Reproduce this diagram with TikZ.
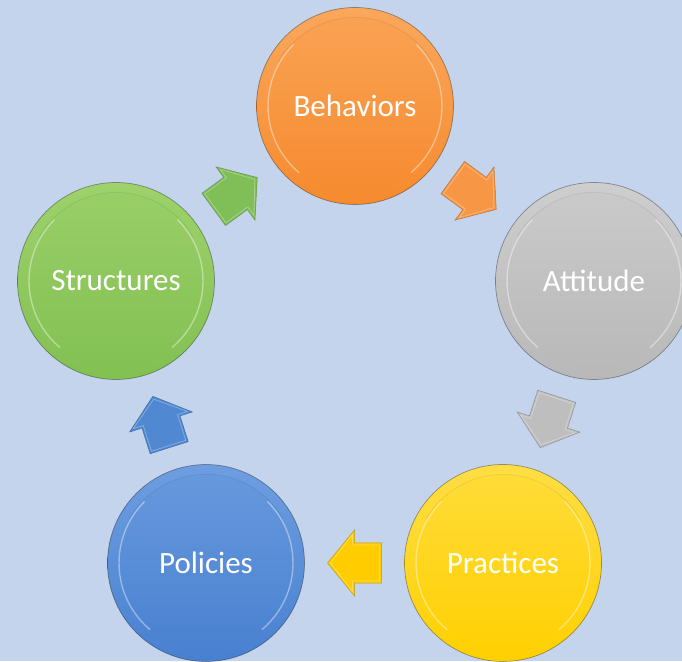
\documentclass[tikz,border=0pt]{standalone}
\usepackage{fontspec}
\setmainfont{Carlito}
\usetikzlibrary{calc}

% palette
\definecolor{bg}{RGB}{196,212,236}
\definecolor{orgD}{RGB}{246,138,46}
\definecolor{orgL}{RGB}{250,168,92}
\definecolor{gryD}{RGB}{184,184,184}
\definecolor{gryL}{RGB}{206,206,206}
\definecolor{ylwD}{RGB}{255,208,0}
\definecolor{ylwL}{RGB}{255,222,70}
\definecolor{bluD}{RGB}{72,128,208}
\definecolor{bluL}{RGB}{110,158,224}
\definecolor{grnD}{RGB}{130,192,82}
\definecolor{grnL}{RGB}{158,210,108}
\definecolor{orgA}{RGB}{247,150,68}
\definecolor{gryA}{RGB}{190,190,190}
\definecolor{ylwA}{RGB}{255,204,0}
\definecolor{bluA}{RGB}{80,136,210}
\definecolor{grnA}{RGB}{128,190,88}

\tikzset{
  % bevelled disc: #1 = darker base colour, #2 = lighter top colour
  disc/.style 2 args={
    circle, minimum size=197pt, inner sep=0pt,
    draw=black, draw opacity=.35, line width=0.7pt,
    top color=#2, bottom color=#1,
    text=white, font=\fontsize{31}{36}\selectfont,
    path picture={
      \shade[top color=#2!85!#1, bottom color=#1] (path picture bounding box.center) circle (87.5pt);
      \draw[#1!70!black, opacity=.18, line width=1pt]
        (path picture bounding box.center) ++(30:88.5) arc (30:150:88.5);
      \draw[white, opacity=.4, line width=1.4pt]
        (path picture bounding box.center) ++(-50:87) arc (-50:45:87);
      \draw[white, opacity=.4, line width=1.4pt]
        (path picture bounding box.center) ++(135:87) arc (135:230:87);
    }},
  % block arrow centred on the origin, pointing along +x
  cycarrow/.pic={
    \path[fill=#1, draw=#1!65!black, draw opacity=.7, line width=.5pt]
      (-27,-20) -- (0,-20) -- (0,-33) -- (27,0) -- (0,33) -- (0,20) -- (-27,20) -- cycle;
    \draw[white, opacity=.3, line width=.8pt, line join=round]
      (-25,-18) -- (2,-18) -- (2,-28.5) -- (24,0) -- (2,28.5) -- (2,18) -- (-25,18) -- cycle;
  },
}

\begin{document}
\begin{tikzpicture}[x=1pt, y=1pt]
  \fill[bg] (0,0) rectangle (682,661);
  \useasboundingbox (0,0) rectangle (682,661);

  % the five stages
  \node[disc={orgD}{orgL}] (beh) at (355,555) {Behaviors};
  \node[disc={gryD}{gryL}] (att) at (594,380) {Attitude};
  \node[disc={ylwD}{ylwL}] (pra) at (503,98)  {Practices};
  \node[disc={bluD}{bluL}] (pol) at (206,98)  {Policies};
  \node[disc={grnD}{grnL}] (str) at (116,380) {Structures};

  % cycle arrows halfway between neighbouring stages
  \foreach \from/\to/\col in {beh/att/orgA, att/pra/gryA, pra/pol/ylwA, pol/str/bluA, str/beh/grnA} {
    \path let \p1 = ($(\to.center)-(\from.center)$),
              \n1 = {atan2(\y1,\x1)} in
      pic[rotate=\n1] at ($(\from.center)!0.5!(\to.center)$) {cycarrow=\col};
  }
\end{tikzpicture}
\end{document}
